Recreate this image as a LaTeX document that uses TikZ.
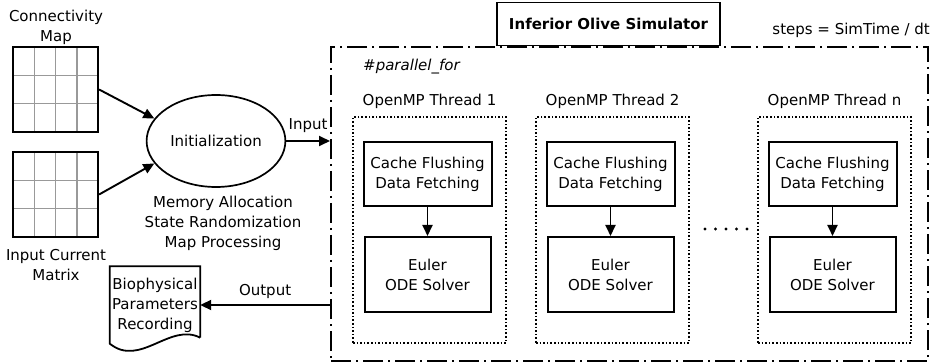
\documentclass[tikz,border=0pt]{standalone}
\usepackage{fontspec}
\setmainfont{DejaVu Sans}
\usetikzlibrary{arrows.meta,shapes.geometric,positioning,calc}

\begin{document}
\begin{tikzpicture}[x=1pt,y=-1pt,
  font=\fontsize{15}{20}\selectfont,
  box/.style={draw,line width=2pt,minimum width=128pt,minimum height=64pt,align=center,inner sep=2pt},
  thread/.style={draw,dotted,line width=1.6pt,minimum width=153pt,minimum height=226pt},
  matrixbox/.style={draw,line width=2.2pt,minimum width=85pt,minimum height=85pt,inner sep=0pt},
  gridline/.style={draw=gray!80,line width=1.5pt},
  arr/.style={-{Triangle[length=11pt,width=10pt]},line width=1.9pt},
  lbl/.style={align=center,inner sep=0pt}
]
\useasboundingbox (0,0) rectangle (931,363);
% input matrices
\foreach \nm/\cy in {cmap/89.5,imat/194.5}{
  \foreach \gx in {-21.25,0,21.25} \draw[gridline] (55.5+\gx,\cy-42.5) -- ++(0,85);
  \foreach \gy in {-14.17,14.17} \draw[gridline] (13,\cy+\gy) -- ++(85,0);
  \node[matrixbox] (\nm) at (55.5,\cy) {};
}
\node[lbl] (cmaplab) at (56,27) {Connectivity\\Map};
\node[lbl] (imatlab) at (56,265) {Input Current\\Matrix};
\node[ellipse,draw,line width=1.7pt,minimum width=114pt,minimum height=92pt] (init) at (216,141) {Initialization};
\node[lbl] (initlab) at (223,223) {Memory Allocation\\State Randomization\\Map Processing};
\draw[arr] (cmap.east) -- (init.160);
\draw[arr] (imat.east) -- (init.200);
% simulator frame
\node[draw,line width=2pt,dash pattern=on 20pt off 5pt on 2pt off 5pt,minimum width=597pt,minimum height=314pt] (sim) at (629.5,204) {};
\node[draw,fill=white,line width=1.8pt,minimum width=223pt,minimum height=43pt,font=\fontsize{15}{20}\selectfont\bfseries] (title) at (608.5,24) {Inferior Olive Simulator};
\node[inner sep=0pt,anchor=east] (steps) at (930,30) {steps = SimTime / dt};
\node[inner sep=0pt,anchor=west,font=\fontsize{15}{20}\selectfont\itshape] (pfor) at (363,67) {\#parallel\_for};
\foreach \nm/\cx/\lab in {t1/429.5/1,t2/612.5/2,tn/834.5/n}{
  \node[thread] (\nm) at (\cx,230) {};
  \node[lbl] (\nm lab) at (\cx,101) {OpenMP Thread \lab};
  \node[box] (\nm c) at (\cx-2,174) {Cache Flushing\\Data Fetching};
  \node[box,minimum width=126pt,minimum height=75pt] (\nm e) at (\cx-2,274.5) {Euler\\ODE Solver};
  \draw[arr] (\nm c) -- (\nm e);
}
\foreach \dx in {0,...,4} \fill (705+\dx*10.5,229) circle (1.7pt);
% output record
\node[lbl,minimum width=90pt,minimum height=77pt] (rec) at (155,305) {Biophysical\\Parameters\\Recording};
\draw[line width=1.8pt] ($(rec.south east)+(0,-6)$) -- (rec.north east) -- (rec.north west) -- (rec.south west)
  .. controls (140,368) and (170,322) .. ($(rec.south east)+(0,-6)$);
\draw[arr] (init.east) -- (init.east -| sim.west) node[midway,above=4pt] {Input};
\draw[arr] (sim.west |- rec.east) -- (rec.east) node[midway,above=2pt] {Output};
\end{tikzpicture}
\end{document}
